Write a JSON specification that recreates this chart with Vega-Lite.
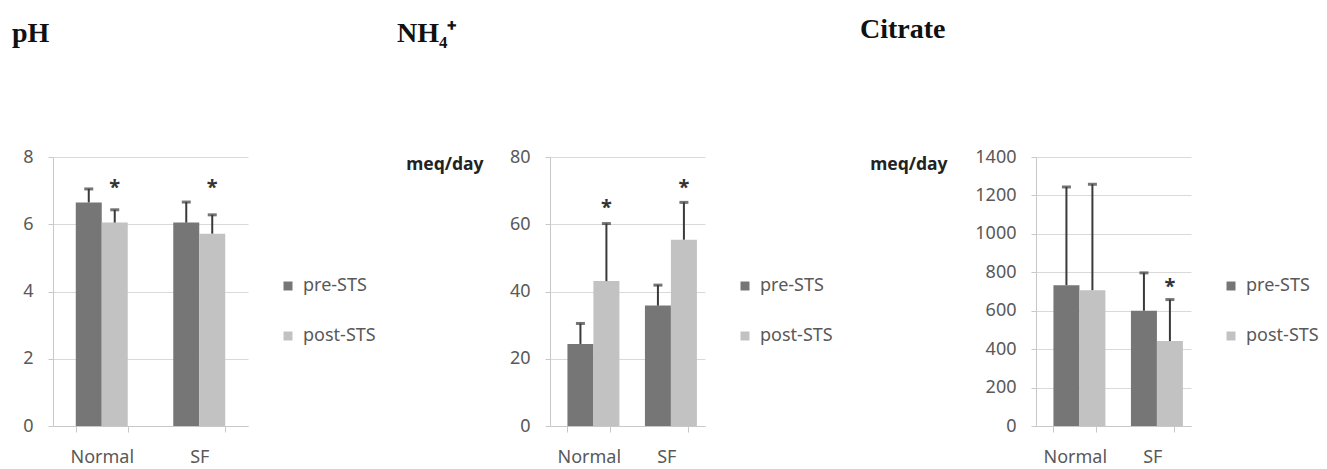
{
  "$schema": "https://vega.github.io/schema/vega-lite/v6.json",
  "background": "white",
  "padding": {"left": 12, "top": 16, "right": 0, "bottom": 0},
  "datasets": {
    "bars": [
      {"panel": "pH", "group": "Normal", "phase": "pre-STS", "value": 6.65, "upper": 7.05},
      {"panel": "pH", "group": "Normal", "phase": "post-STS", "value": 6.05, "upper": 6.43},
      {"panel": "pH", "group": "SF", "phase": "pre-STS", "value": 6.05, "upper": 6.66},
      {"panel": "pH", "group": "SF", "phase": "post-STS", "value": 5.72, "upper": 6.28},
      {"panel": "NH4", "group": "Normal", "phase": "pre-STS", "value": 24.4, "upper": 30.5},
      {"panel": "NH4", "group": "Normal", "phase": "post-STS", "value": 43.1, "upper": 60.2},
      {"panel": "NH4", "group": "SF", "phase": "pre-STS", "value": 35.8, "upper": 41.9},
      {"panel": "NH4", "group": "SF", "phase": "post-STS", "value": 55.4, "upper": 66.5},
      {"panel": "Citrate", "group": "Normal", "phase": "pre-STS", "value": 733, "upper": 1244},
      {"panel": "Citrate", "group": "Normal", "phase": "post-STS", "value": 707, "upper": 1258},
      {"panel": "Citrate", "group": "SF", "phase": "pre-STS", "value": 600, "upper": 797},
      {"panel": "Citrate", "group": "SF", "phase": "post-STS", "value": 442, "upper": 658}
    ],
    "stars": [
      {"panel": "pH", "group": "Normal", "phase": "post-STS", "star": 7.23},
      {"panel": "pH", "group": "SF", "phase": "post-STS", "star": 7.23},
      {"panel": "NH4", "group": "Normal", "phase": "post-STS", "star": 66.3},
      {"panel": "NH4", "group": "SF", "phase": "post-STS", "star": 72.3},
      {"panel": "Citrate", "group": "SF", "phase": "post-STS", "star": 750}
    ]
  },
  "config": {
    "view": {"stroke": null},
    "font": "Noto Sans",
    "axis": {
      "labelFont": "Noto Sans",
      "labelFontSize": 18,
      "labelColor": "#595959",
      "domainColor": "#c8c8c8",
      "tickColor": "#c8c8c8",
      "gridColor": "#d9d9d9",
      "tickSize": 5,
      "labelOverlap": false
    },
    "legend": {
      "labelFont": "Noto Sans",
      "labelFontSize": 18,
      "labelColor": "#595959",
      "symbolType": "square",
      "symbolSize": 81,
      "symbolStrokeWidth": 0,
      "rowPadding": 32,
      "labelOffset": 6
    },
    "title": {
      "font": "Liberation Serif",
      "fontSize": 28,
      "fontWeight": "bold",
      "color": "#111111",
      "anchor": "start",
      "frame": "group",
      "offset": 100
    }
  },
  "hconcat": [
    {
      "hconcat": [
        {
          "width": 195,
          "height": 269,
          "title": {"text": "pH", "dx": -41},
          "data": {"name": "bars"},
          "transform": [{"filter": "datum.panel === 'pH'"}],
          "encoding": {
            "x": {"field": "group", "type": "nominal", "sort": ["Normal", "SF"],
              "scale": {"paddingInner": 0.467, "paddingOuter": 0.2335},
              "axis": {"title": null, "labelAngle": 0, "tickBand": "extent", "tickSize": 6, "labelPadding": 16}},
            "xOffset": {"field": "phase", "type": "nominal", "sort": ["pre-STS", "post-STS"]}
          },
          "layer": [
            {
              "mark": {"type": "bar"},
              "encoding": {
                "y": {"field": "value", "type": "quantitative", "scale": {"domain": [0, 8]},
                  "axis": {"title": null, "values": [0, 2, 4, 6, 8], "grid": true, "labelPadding": 15}},
                "color": {"field": "phase", "type": "nominal", "sort": ["pre-STS", "post-STS"],
                  "scale": {"domain": ["pre-STS", "post-STS"], "range": ["#767676", "#c2c2c2"]},
                  "legend": {"title": null, "orient": "none", "legendX": 226, "legendY": 120}}
              }
            },
            {
              "mark": {"type": "rule", "color": "#3a3a3a", "strokeWidth": 2},
              "encoding": {"y": {"field": "value", "type": "quantitative"}, "y2": {"field": "upper"}}
            },
            {
              "mark": {"type": "tick", "orient": "horizontal", "color": "#3a3a3a", "size": 9, "thickness": 3},
              "encoding": {"y": {"field": "upper", "type": "quantitative"}}
            },
            {
              "data": {"name": "stars"},
              "transform": [{"filter": "datum.panel === 'pH'"}],
              "mark": {"type": "text", "text": "*", "fontSize": 20, "fontWeight": "bold", "baseline": "alphabetic", "dy": 11, "color": "#333333"},
              "encoding": {"y": {"field": "star", "type": "quantitative"}}
            }
          ]
        },
        {
          "width": 155,
          "height": 269,
          "title": {"text": "NH₄⁺", "dx": -153},
          "data": {"name": "bars"},
          "transform": [{"filter": "datum.panel === 'NH4'"}],
          "encoding": {
            "x": {"field": "group", "type": "nominal", "sort": ["Normal", "SF"],
              "scale": {"paddingInner": 0.45, "paddingOuter": 0.225},
              "axis": {"title": null, "labelAngle": 0, "tickBand": "extent", "tickSize": 6, "labelPadding": 16}},
            "xOffset": {"field": "phase", "type": "nominal", "sort": ["pre-STS", "post-STS"]}
          },
          "layer": [
            {
              "mark": {"type": "bar"},
              "encoding": {
                "y": {"field": "value", "type": "quantitative", "scale": {"domain": [0, 80]},
                  "axis": {"title": "meq/day", "titleAngle": 0, "titleAlign": "right", "titleBaseline": "middle",
                    "titleX": -67, "titleY": 7, "titleFont": "Noto Sans", "titleFontSize": 17.5, "titleFontWeight": "bold", "titleColor": "#222222",
                    "values": [0, 20, 40, 60, 80], "grid": true, "labelPadding": 15}},
                "color": {"field": "phase", "type": "nominal", "sort": ["pre-STS", "post-STS"],
                  "scale": {"domain": ["pre-STS", "post-STS"], "range": ["#767676", "#c2c2c2"]},
                  "legend": {"title": null, "orient": "none", "legendX": 186, "legendY": 120}}
              }
            },
            {
              "mark": {"type": "rule", "color": "#3a3a3a", "strokeWidth": 2},
              "encoding": {"y": {"field": "value", "type": "quantitative"}, "y2": {"field": "upper"}}
            },
            {
              "mark": {"type": "tick", "orient": "horizontal", "color": "#3a3a3a", "size": 9, "thickness": 3},
              "encoding": {"y": {"field": "upper", "type": "quantitative"}}
            },
            {
              "data": {"name": "stars"},
              "transform": [{"filter": "datum.panel === 'NH4'"}],
              "mark": {"type": "text", "text": "*", "fontSize": 20, "fontWeight": "bold", "baseline": "alphabetic", "dy": 11, "color": "#333333"},
              "encoding": {"y": {"field": "star", "type": "quantitative"}}
            }
          ]
        }
      ],
      "spacing": 302,
      "bounds": "flush",
      "resolve": {"scale": {"color": "independent"}, "legend": {"color": "independent"}}
    },
    {
      "width": 155,
      "height": 269,
      "title": {"text": "Citrate", "dx": -176, "dy": -4},
      "data": {"name": "bars"},
      "transform": [{"filter": "datum.panel === 'Citrate'"}],
      "encoding": {
        "x": {"field": "group", "type": "nominal", "sort": ["Normal", "SF"],
          "scale": {"paddingInner": 0.45, "paddingOuter": 0.225},
          "axis": {"title": null, "labelAngle": 0, "tickBand": "extent", "tickSize": 6, "labelPadding": 16}},
        "xOffset": {"field": "phase", "type": "nominal", "sort": ["pre-STS", "post-STS"]}
      },
      "layer": [
        {
          "mark": {"type": "bar"},
          "encoding": {
            "y": {"field": "value", "type": "quantitative", "scale": {"domain": [0, 1400]},
              "axis": {"title": "meq/day", "titleAngle": 0, "titleAlign": "right", "titleBaseline": "middle",
                "titleX": -89, "titleY": 7, "titleFont": "Noto Sans", "titleFontSize": 17.5, "titleFontWeight": "bold", "titleColor": "#222222",
                "values": [0, 200, 400, 600, 800, 1000, 1200, 1400], "tickCount": 8, "format": "d", "labelOverlap": false, "labelBound": false, "grid": true, "labelPadding": 15}},
            "color": {"field": "phase", "type": "nominal", "sort": ["pre-STS", "post-STS"],
              "scale": {"domain": ["pre-STS", "post-STS"], "range": ["#767676", "#c2c2c2"]},
              "legend": {"title": null, "orient": "none", "legendX": 186, "legendY": 120}}
          }
        },
        {
          "mark": {"type": "rule", "color": "#3a3a3a", "strokeWidth": 2},
          "encoding": {"y": {"field": "value", "type": "quantitative",
            "axis": {"title": "meq/day", "values": [0, 200, 400, 600, 800, 1000, 1200, 1400], "tickCount": 8, "format": "d", "labelOverlap": false}},
            "y2": {"field": "upper"}}
        },
        {
          "mark": {"type": "tick", "orient": "horizontal", "color": "#3a3a3a", "size": 9, "thickness": 3},
          "encoding": {"y": {"field": "upper", "type": "quantitative",
            "axis": {"title": "meq/day", "values": [0, 200, 400, 600, 800, 1000, 1200, 1400], "tickCount": 8, "format": "d", "labelOverlap": false}}}
        },
        {
          "data": {"name": "stars"},
          "transform": [{"filter": "datum.panel === 'Citrate'"}],
          "mark": {"type": "text", "text": "*", "fontSize": 20, "fontWeight": "bold", "baseline": "alphabetic", "dy": 11, "color": "#333333"},
          "encoding": {"y": {"field": "star", "type": "quantitative",
            "axis": {"title": "meq/day", "values": [0, 200, 400, 600, 800, 1000, 1200, 1400], "tickCount": 8, "format": "d", "labelOverlap": false}}}
        }
      ]
    }
  ],
  "spacing": 983,
  "bounds": "flush",
  "resolve": {"scale": {"color": "independent"}, "legend": {"color": "independent"}}
}
